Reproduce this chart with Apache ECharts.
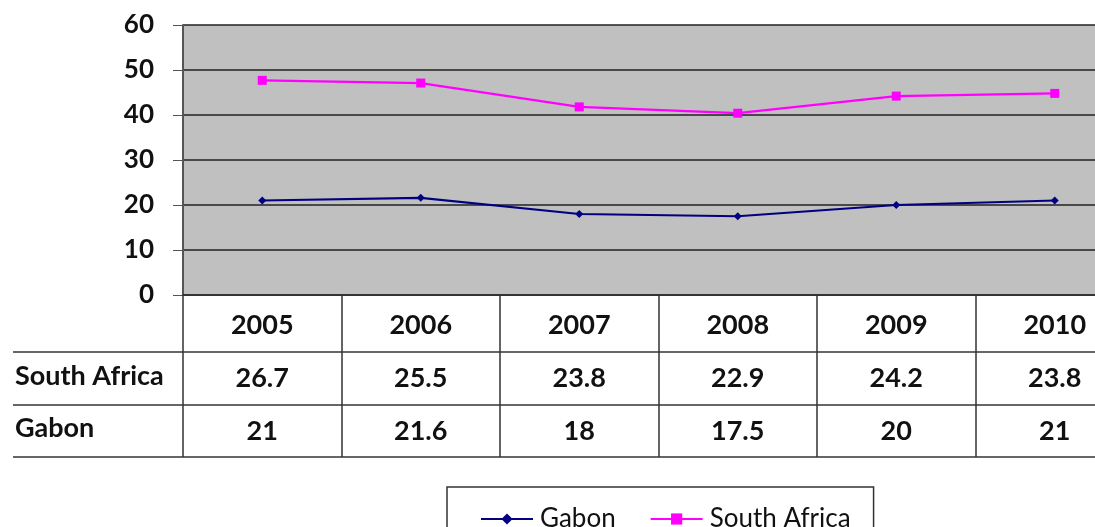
<!DOCTYPE html>
<html>
<head>
<meta charset="utf-8">
<script src="https://cdn.jsdelivr.net/npm/echarts@6/dist/echarts.min.js"></script>
<style>
  html, body { margin: 0; padding: 0; background: #fff; overflow: hidden; }
  /* the original chart is cut off at the right edge, so draw wider than the window */
  #main { width: 1140px; height: 527px; }
</style>
</head>
<body>
<div id="main"></div>
<script>
const years = ['2005', '2006', '2007', '2008', '2009', '2010']
const gabon = [21, 21.6, 18, 17.5, 20, 21]
const southAfrica = [26.7, 25.5, 23.8, 22.9, 24.2, 23.8]
const rowNames = ['South Africa', 'Gabon']

const font = 'Lato, "DejaVu Sans", sans-serif'
const plotBottom = 295
const rowLines = [352, 405, 457]

const chart = echarts.init(document.getElementById('main'))

// extra category axes act as the table rows under the plot
const tableRow = (vals, offset) => ({
  type: 'category',
  data: years,
  position: 'bottom',
  offset: offset,
  boundaryGap: true,
  axisLine: { show: false },
  axisTick: { show: false },
  axisLabel: {
    interval: 0,
    margin: 16,
    fontFamily: font,
    fontSize: 27,
    fontWeight: 'bold',
    color: '#111',
    formatter: (v, i) => String(vals[i])
  }
})

const option = {
  animation: false,
  grid: {
    left: 183, top: 25, right: 6, bottom: 527 - plotBottom,
    show: true, backgroundColor: '#C0C0C0', borderWidth: 0
  },
  xAxis: [
    {
      type: 'category',
      data: years,
      boundaryGap: true,
      axisLine: { lineStyle: { color: '#333', width: 2 } },
      axisTick: { show: true, interval: 0, length: 162, lineStyle: { color: '#333', width: 1.5 } },
      axisLabel: {
        interval: 0, margin: 17,
        fontFamily: font, fontSize: 27, fontWeight: 'bold', color: '#111'
      }
    },
    tableRow(southAfrica, 54),
    tableRow(gabon, 107)
  ],
  yAxis: {
    type: 'value',
    min: 0, max: 60, interval: 10,
    axisLine: { show: true, lineStyle: { color: '#555', width: 2 } },
    axisTick: { show: true, inside: false, length: 10, lineStyle: { color: '#555' } },
    axisLabel: { margin: 29, fontFamily: font, fontSize: 26, fontWeight: 'bold', color: '#111' },
    splitLine: { lineStyle: { color: '#222', width: 1.5 } }
  },
  legend: {
    left: 447, top: 487,
    padding: [19, 23, 30, 33],
    borderColor: '#333', borderWidth: 1.5,
    itemWidth: 52, itemHeight: 14, itemGap: 34,
    textStyle: { fontFamily: font, fontSize: 26, color: '#111', padding: [0, 0, 0, 2] },
    data: ['Gabon', 'South Africa']
  },
  series: [
    {
      name: 'Gabon', type: 'line', stack: 'total', data: gabon,
      color: '#000080',
      symbol: 'diamond', symbolSize: 8,
      lineStyle: { width: 2.2, color: '#000080' },
      itemStyle: { color: '#000080' }
    },
    {
      name: 'South Africa', type: 'line', stack: 'total', data: southAfrica,
      color: '#FF00FF',
      symbol: 'rect', symbolSize: 9,
      lineStyle: { width: 2.2, color: '#FF00FF' },
      itemStyle: { color: '#FF00FF' }
    }
  ],
  graphic: [
    ...rowLines.map(y => ({
      type: 'line',
      shape: { x1: 13, y1: y, x2: 1140, y2: y },
      style: { stroke: '#333', lineWidth: 1.5 }
    })),
    ...rowNames.map((name, i) => ({
      type: 'text',
      left: 15,
      top: (rowLines[i] + rowLines[i + 1]) / 2 - 16,
      style: { text: name, fontFamily: font, fontSize: 27, fontWeight: 'bold', fill: '#111' }
    }))
  ]
}

chart.setOption(option)
</script>
</body>
</html>
